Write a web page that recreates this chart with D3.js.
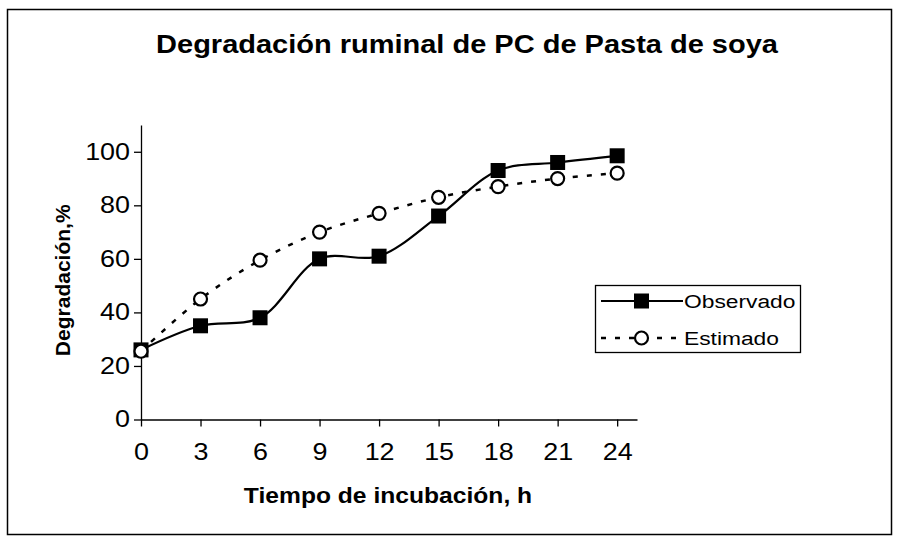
<!DOCTYPE html>
<html>
<head>
<meta charset="utf-8">
<script src="https://cdn.jsdelivr.net/npm/d3@7"></script>
<style>
  body { margin: 0; background: #fff; }
  text { font-family: 'Liberation Sans', Arial, sans-serif; fill: #000; }
</style>
</head>
<body>
<div id="chart"></div>
<script>
const hours = [0, 3, 6, 9, 12, 15, 18, 21, 24]
const observado = [26, 35, 38, 60, 61, 76, 93, 96, 98.5]
const estimado = [25.5, 45, 59.5, 70, 77, 83, 87, 90, 92]
const yTicks = [0, 20, 40, 60, 80, 100]
const seriesNames = ['Observado', 'Estimado']

const W = 899
const H = 539
const margin = { top: 125, right: 262, bottom: 120, left: 141 }
// the scanned original is a little wider than normal Arial
const stretch = 1.17

const svg = d3.select('#chart')
  .append('svg')
  .attr('width', W)
  .attr('height', H)

// outer frame
svg.append('rect')
  .attr('x', 7.5).attr('y', 9.5)
  .attr('width', 884).attr('height', 525)
  .attr('fill', 'none')
  .attr('stroke', '#000')
  .attr('stroke-width', 1.5)

svg.append('text')
  .attr('transform', 'translate(467,53) scale(1.16,1)')
  .attr('text-anchor', 'middle')
  .style('font-size', '25px')
  .style('font-weight', 'bold')
  .text('Degradación ruminal de PC de Pasta de soya')

const x = d3.scaleLinear()
  .domain([0, 25])
  .range([margin.left, W - margin.right])

const y = d3.scaleLinear()
  .domain([0, 110])
  .range([H - margin.bottom + 0.5, margin.top])

const xAxis = svg.append('g')
  .attr('transform', 'translate(0,' + y(0) + ')')
  .call(d3.axisBottom(x).tickValues(hours).tickSize(7).tickSizeOuter(0).tickPadding(17))
xAxis.selectAll('text')
  .style('font-size', '23px')
  .attr('transform', 'scale(' + stretch + ',1)')

const yAxis = svg.append('g')
  .attr('transform', 'translate(' + x(0) + ',0)')
  .call(d3.axisLeft(y).tickValues(yTicks).tickSize(7).tickSizeOuter(0))
yAxis.selectAll('text')
  .style('font-size', '23px')
  .attr('x', -11 / stretch)
  .attr('transform', 'scale(' + stretch + ',1)')
svg.selectAll('.domain, .tick line').attr('stroke', '#000').attr('stroke-width', 1.3)

svg.append('text')
  .attr('transform', 'translate(388,503) scale(1.12,1)')
  .attr('text-anchor', 'middle')
  .style('font-size', '22px')
  .style('font-weight', 'bold')
  .text('Tiempo de incubación, h')

svg.append('text')
  .attr('transform', 'translate(70,' + y(52) + ') rotate(-90)')
  .attr('text-anchor', 'middle')
  .style('font-size', '21px')
  .style('font-weight', 'bold')
  .text('Degradación,%')

const line = d3.line()
  .x(function (d, i) { return x(hours[i]) })
  .y(function (d) { return y(d) })
  .curve(d3.curveCatmullRom)

svg.append('path')
  .datum(estimado)
  .attr('fill', 'none')
  .attr('stroke', '#000')
  .attr('stroke-width', 2.5)
  .attr('stroke-dasharray', '5,9')
  .attr('d', line)

svg.append('path')
  .datum(observado)
  .attr('fill', 'none')
  .attr('stroke', '#000')
  .attr('stroke-width', 2.2)
  .attr('d', line)

svg.selectAll('.sq')
  .data(observado)
  .enter().append('rect')
  .attr('class', 'sq')
  .attr('x', function (d, i) { return x(hours[i]) - 7.5 })
  .attr('y', function (d) { return y(d) - 7.5 })
  .attr('width', 15).attr('height', 15)
  .attr('fill', '#000')

svg.selectAll('.ci')
  .data(estimado)
  .enter().append('circle')
  .attr('class', 'ci')
  .attr('cx', function (d, i) { return x(hours[i]) })
  .attr('cy', function (d) { return y(d) })
  .attr('r', 6.5)
  .attr('fill', '#fff')
  .attr('stroke', '#000')
  .attr('stroke-width', 2.2)

// legend
const legend = svg.append('g').attr('transform', 'translate(595,285)')
legend.append('rect')
  .attr('x', 0.5).attr('y', 0.5)
  .attr('width', 205).attr('height', 67)
  .attr('fill', '#fff')
  .attr('stroke', '#000')
  .attr('stroke-width', 1.3)

seriesNames.forEach(function (name, i) {
  const ly = 16 + i * 37
  legend.append('line')
    .attr('x1', 6).attr('x2', 88)
    .attr('y1', ly).attr('y2', ly)
    .attr('stroke', '#000')
    .attr('stroke-width', i === 0 ? 2.2 : 2.5)
    .attr('stroke-dasharray', i === 0 ? null : '5,9')
  if (i === 0) {
    legend.append('rect')
      .attr('x', 39).attr('y', ly - 7.5)
      .attr('width', 15).attr('height', 15)
      .attr('fill', '#000')
  } else {
    legend.append('circle')
      .attr('cx', 46.5).attr('cy', ly)
      .attr('r', 6.5)
      .attr('fill', '#fff')
      .attr('stroke', '#000')
      .attr('stroke-width', 2.2)
  }
  legend.append('text')
    .attr('transform', 'translate(89,' + ly + ') scale(1.2,1)')
    .attr('dy', '0.35em')
    .style('font-size', '19px')
    .text(name)
})
</script>
</body>
</html>
